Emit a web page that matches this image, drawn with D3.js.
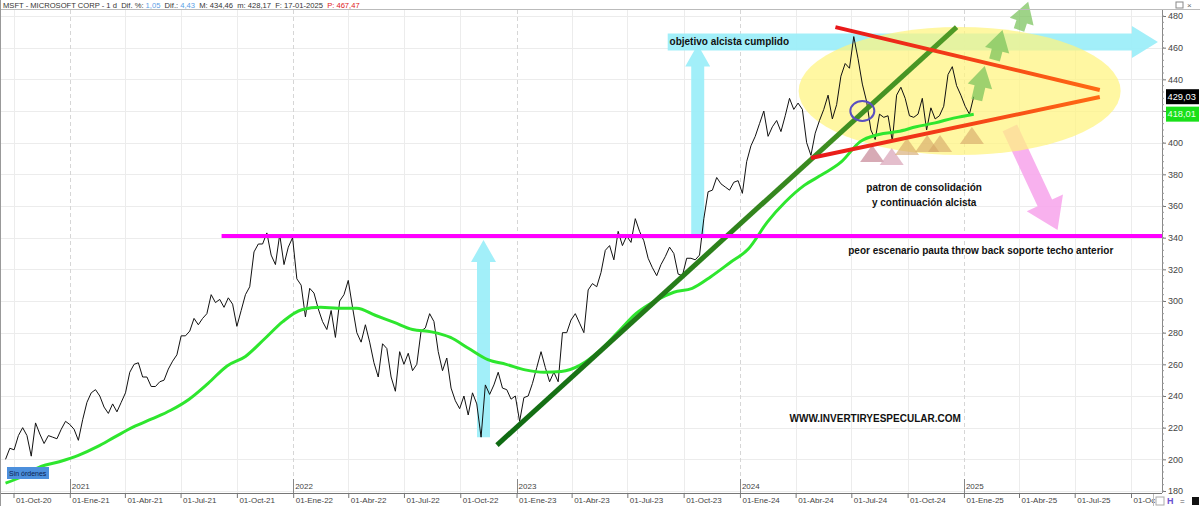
<!DOCTYPE html>
<html><head><meta charset="utf-8">
<script src="https://cdn.jsdelivr.net/npm/d3@7"></script>
<style>
body{margin:0;background:#fff;}
svg{display:block;font-family:"Liberation Sans",Arial,sans-serif;}
</style>
</head><body>
<svg id="chart" width="1200" height="506"></svg>
<script>
// ---------------- DATA ----------------
// Weekly closes (Fridays) of MSFT
const start2020 = "2020-09-18";
const close2020 = [200,207,206,215,220,215,202,223,216,210,215,214,213,219,224];
const start2021 = "2021-01-01";
const close2021 = [222,219,212,225,236,242,244,240,233,229,235,230,236,242,255,260,261,252,252,246,246,249,
  250,257,262,266,278,278,281,289,285,289,292,304,299,301,296,302,298,284,294,304,309,331,336,336,343,329,
  323,342,323,334,340];
const start2022 = "2022-01-07";
const close2022 = [314,310,290,308,305,295,287,282,294,277,300,304,313,296,280,274,285,274,261,252,273,270,
  252,243,268,260,267,256,260,281,283,292,287,268,256,264,245,237,232,240,228,242,235,214,247,241,247,255,
  245,244,238,240];
const start2023 = "2023-01-06";
const close2023 = [224,239,240,248,258,268,258,249,255,249,280,280,288,292,286,280,307,311,309,318,332,335,
  326,344,335,341,337,352,344,338,327,321,316,323,328,334,330,317,316,327,327,326,329,352,369,370,378,374,
  372,370,375,376];
const start2024 = "2024-01-05";
const close2024 = [368,388,398,404,412,420,404,410,414,407,417,428,421,425,421,400,392,406,414,421,430,415,
  424,442,450,447,467,453,437,426,408,402,418,416,417,401,430,435,428,417,416,418,428,408,422,415,417,423,
  443,448,436,430];
const start2025 = "2025-01-03";
const close2025 = [423,418,429];

// Moving average (green)
const maDates = ["2020-09-18","2020-10-15","2020-11-15","2020-12-15","2021-01-15","2021-02-15","2021-03-15",
  "2021-04-15","2021-05-15","2021-06-15","2021-07-15","2021-08-15","2021-09-15","2021-10-15","2021-11-15",
  "2021-12-15","2022-01-15","2022-02-15","2022-03-15","2022-04-15","2022-05-15","2022-06-15","2022-07-15",
  "2022-08-15","2022-09-15","2022-10-15","2022-11-15","2022-12-15","2023-01-15","2023-02-15","2023-03-15",
  "2023-04-15","2023-05-15","2023-06-15","2023-07-15","2023-08-15","2023-09-15","2023-10-15","2023-11-15",
  "2023-12-15","2024-01-15","2024-02-15","2024-03-15","2024-04-15","2024-05-15","2024-06-15","2024-07-15",
  "2024-08-15","2024-09-15","2024-10-15","2024-11-15","2024-12-15","2025-01-17"];
const maValues = [185,189,195.5,198.5,202.5,208,214,220.5,225.5,231,238,248,259,265,276,
  287,294.5,296,295.5,295.5,291,286.5,282,280.5,277,270,263,260,256.5,255,255.5,
  259.5,268,280,292,300,305.5,308,315.5,324,333,350,362.5,373,380,388,400.5,
  405.2,407,410,412.5,415.5,418];

// Axis ticks
const priceTicks = [180,200,220,240,260,280,300,320,340,360,380,400,420,440,460,480];
const hiddenPriceLabels = [420];          // covered by the last-value boxes in the original
const mesesAbrev = ["Ene","Feb","Mar","Abr","May","Jun","Jul","Ago","Sep","Oct","Nov","Dic"];
const yearLabels = ["2021","2022","2023","2024","2025"];

// Last values
const lastClose = 429.03;
const lastMA = 418.01;

// Annotations (in date / price terms)
const resistanceLevel = 341;            const resistanceFrom = "2021-09-06";
const trendUp = [["2022-11-30",209],["2024-12-20",473]];
const triTop = [["2024-06-05",473],["2025-08-11",433.3]];
const triBottom = [["2024-04-26",390.3],["2025-08-11",428.8]];
const blueArrowsV = [[["2022-11-08",214],["2022-11-08",338.5]],[["2023-10-24",341],["2023-10-24",462]]];
const blueArrowH = [["2023-09-05",463.6],["2025-11-14",463.6]];
const pinkArrow = [["2025-03-17",409.3],["2025-06-03",344.8]];
const greenArrows = [[["2025-01-22",427],["2025-02-04",448.4]],[["2025-02-20",452.2],["2025-03-05",471.2]],
                     [["2025-04-01",471.2],["2025-04-16",489]]];
const ellipseCenter = ["2024-12-25",432.6];
const circleCenter = ["2024-07-19",420];
const triangles = [["2024-08-04",398.5],["2024-09-05",396.6],["2024-09-30",403],["2024-11-02",404.8],
                   ["2024-11-23",404.8],["2025-01-14",409.9]];
const headerParts = [["MSFT - MICROSOFT CORP - 1 d  Dif. %: ","#333"],["1,05","#5aa0e6"],["  Dif.: ","#333"],
  ["4,43","#5aa0e6"],["  M: 434,46  m: 428,17  F: 17-01-2025  ","#333"],["P: 467,47","#e02020"]];

// ---------------- CHART ----------------
const svg = d3.select("#chart");
const P = d3.utcParse("%Y-%m-%d");
const W = 1200, H = 506, plotR = 1162, plotT = 10, plotB = 493;

const x = d3.scaleUtc().domain([P("2020-10-01"), P("2025-10-01")]).range([13.5, 1131]);
const y = d3.scaleLinear().domain([180, 480]).range([491, 16]);

function weekly(startStr, arr){ const s=P(startStr); return arr.map((v,i)=>({d:d3.utcDay.offset(s,7*i), v})); }
const prices = [].concat(weekly(start2020,close2020),weekly(start2021,close2021),weekly(start2022,close2022),
  weekly(start2023,close2023),weekly(start2024,close2024),weekly(start2025,close2025));
const ma = maDates.map((d,i)=>({d:P(d), v:maValues[i]}));
const pt = a => [x(P(a[0])), y(a[1])];

const defs = svg.append("defs");
defs.append("clipPath").attr("id","plot").append("rect").attr("x",0).attr("y",plotT).attr("width",plotR).attr("height",plotB-plotT);

// grid
const quarters = d3.utcMonth.every(3).range(P("2020-10-01"), P("2025-10-02"));
const g = svg.append("g").attr("clip-path","url(#plot)");
g.selectAll(".hg").data(priceTicks).join("line").attr("x1",0).attr("x2",plotR)
  .attr("y1",d=>Math.round(y(d))+0.5).attr("y2",d=>Math.round(y(d))+0.5).attr("stroke","#ececec");
g.selectAll(".vg").data(quarters).join("line")
  .attr("x1",d=>Math.round(x(d))+0.5).attr("x2",d=>Math.round(x(d))+0.5).attr("y1",plotT).attr("y2",plotB)
  .attr("stroke",d=>d.getUTCMonth()===0?"#d6d6d6":"#ececec")
  .attr("stroke-dasharray",d=>d.getUTCMonth()===0?"4,3":null);

// arrow polygon helper
function arrowPts(a,b,w,hw,hl){
  const dx=b[0]-a[0], dy=b[1]-a[1], L=Math.hypot(dx,dy), ux=dx/L, uy=dy/L, nx=-uy, ny=ux;
  const nk=[b[0]-ux*hl, b[1]-uy*hl];
  return [[a[0]+nx*w/2,a[1]+ny*w/2],[nk[0]+nx*w/2,nk[1]+ny*w/2],[nk[0]+nx*hw/2,nk[1]+ny*hw/2],b,
          [nk[0]-nx*hw/2,nk[1]-ny*hw/2],[nk[0]-nx*w/2,nk[1]-ny*w/2],[a[0]-nx*w/2,a[1]-ny*w/2]].map(p=>p.join(",")).join(" ");
}
const back = svg.append("g");
// cyan arrows
blueArrowsV.forEach(a=>{
  back.append("polygon").attr("points",arrowPts(pt(a[0]),pt(a[1]),13,25,22)).attr("fill","#9deef9").attr("opacity",0.95);
});
back.append("polygon").attr("points",arrowPts(pt(blueArrowH[0]),pt(blueArrowH[1]),17,32,26)).attr("fill","#9deef9").attr("opacity",0.95);
// pink arrow
back.append("polygon").attr("points",arrowPts(pt(pinkArrow[0]),pt(pinkArrow[1]),16,40,30)).attr("fill","#f7a8ec").attr("opacity",0.9);
// yellow ellipse
const ec = pt(ellipseCenter);
back.append("ellipse").attr("cx",ec[0]).attr("cy",ec[1]).attr("rx",161).attr("ry",64).attr("fill","#fff47e").attr("opacity",0.72);

// price and MA (above the background shapes)
const pg = svg.append("g").attr("clip-path","url(#plot)");
const line = d3.line().x(d=>x(d.d)).y(d=>y(d.v));
pg.append("path").datum(prices).attr("d",line).attr("fill","none").attr("stroke","#111").attr("stroke-width",1);
pg.append("path").datum(ma).attr("d",line.curve(d3.curveMonotoneX)).attr("fill","none").attr("stroke","#2ee62e").attr("stroke-width",3);

const ann = svg.append("g");
// triangles
triangles.forEach((t,i)=>{
  const p=pt(t);
  const col = i===0?"#c98e9c":(i===1?"#dba8bb":"#d3a466");
  ann.append("polygon").attr("points",[[p[0],p[1]],[p[0]+12,p[1]+17],[p[0]-12,p[1]+17]].map(q=>q.join(",")).join(" "))
    .attr("fill",col).attr("opacity",i<2?0.75:0.6);
});

// gradient lines
function gradLine(id, a, b, c1, c2, w){
  const A=pt(a), B=pt(b);
  const gr=defs.append("linearGradient").attr("id",id).attr("gradientUnits","userSpaceOnUse")
    .attr("x1",A[0]).attr("y1",A[1]).attr("x2",B[0]).attr("y2",B[1]);
  gr.append("stop").attr("offset","0%").attr("stop-color",c1);
  gr.append("stop").attr("offset","100%").attr("stop-color",c2);
  ann.append("line").attr("x1",A[0]).attr("y1",A[1]).attr("x2",B[0]).attr("y2",B[1])
    .attr("stroke",`url(#${id})`).attr("stroke-width",w).attr("stroke-linecap","butt");
}
gradLine("gUp", trendUp[0], trendUp[1], "#0e6a12", "#4f9a26", 5);
gradLine("gTop", triTop[0], triTop[1], "#e8161a", "#ff6a14", 4);
gradLine("gBot", triBottom[0], triBottom[1], "#e8161a", "#ff6a14", 4);

// magenta resistance
ann.append("line").attr("x1",x(P(resistanceFrom))).attr("x2",plotR).attr("y1",y(resistanceLevel)).attr("y2",y(resistanceLevel))
  .attr("stroke","#ff00ff").attr("stroke-width",4);

// circle
const cc = pt(circleCenter);
ann.append("ellipse").attr("cx",cc[0]).attr("cy",cc[1]).attr("rx",12).attr("ry",10).attr("fill","none")
  .attr("stroke","#5a4fc0").attr("stroke-width",2);

// green arrows
greenArrows.forEach(a=>{
  ann.append("polygon").attr("points",arrowPts(pt(a[0]),pt(a[1]),11,25,21)).attr("fill","#78c25a").attr("opacity",0.72);
});

// annotation texts
const T = (s, xp, yp, anchor) => ann.append("text").attr("x",xp).attr("y",yp).attr("text-anchor",anchor||"start")
  .attr("font-size",10).attr("font-weight","bold").attr("fill","#111").text(s);
T("objetivo alcista cumplido", x(P("2023-09-08")), y(463.6)+3.5);
T("patron de consolidación", x(P("2024-10-28")), y(372)+3.5, "middle");
T("y continuación alcista", x(P("2024-10-28")), y(362.5)+3.5, "middle");
T("peor escenario pauta throw back soporte techo anterior", x(P("2024-06-26")), y(332.2)+3.5);
T("WWW.INVERTIRYESPECULAR.COM", x(P("2024-03-22")), y(225.5)+3.5);

// Sin órdenes box
svg.append("rect").attr("x",7).attr("y",467).attr("width",42).attr("height",12).attr("fill","#4c8fdc");
svg.append("text").attr("x",9).attr("y",476).attr("font-size",7).attr("fill","#0b2250").text("Sin órdenes");

// right axis
const yAx = svg.append("g").attr("transform",`translate(${plotR},0)`)
  .call(d3.axisRight(y).tickValues(priceTicks).tickSize(4).tickPadding(2)
    .tickFormat(d=>hiddenPriceLabels.includes(d)?"":d));
yAx.select(".domain").remove();
yAx.selectAll("line").attr("stroke","#777");
yAx.selectAll("text").attr("font-size",9).attr("fill","#444").attr("font-family","Liberation Sans, Arial, sans-serif");
svg.append("line").attr("x1",plotR+0.5).attr("x2",plotR+0.5).attr("y1",plotT).attr("y2",plotB).attr("stroke","#888");
svg.selectAll(".mt").data(d3.range(180,481,4)).join("line").attr("x1",plotR).attr("x2",plotR+2)
  .attr("y1",d=>y(d)).attr("y2",d=>y(d)).attr("stroke","#999");

// last-value boxes
const fmtC = v => d3.format(".2f")(v).replace(".",",");
[[lastClose,"#000","#fff"],[lastMA,"#19e019","#e8ffe8"]].forEach(b=>{
  const yy=y(b[0]);
  svg.append("rect").attr("x",1166).attr("y",yy-7.5).attr("width",33).attr("height",15).attr("fill",b[1]);
  svg.append("text").attr("x",1167.5).attr("y",yy+3.3).attr("font-size",9.3).attr("fill",b[2]).text(fmtC(b[0]));
});

// bottom axis
svg.append("line").attr("x1",0).attr("x2",plotR).attr("y1",plotB+0.5).attr("y2",plotB+0.5).attr("stroke","#777");
const lastQ = quarters[quarters.length-1];
const fmtQ = d => { const s = "01-" + mesesAbrev[d.getUTCMonth()] + "-" + String(d.getUTCFullYear()).slice(2);
  return +d===+lastQ ? s.slice(0,5) : s; };   // last label is cut by the toolbar in the original
const xAx = svg.append("g").attr("transform",`translate(0,${plotB})`)
  .call(d3.axisBottom(x).tickValues(quarters).tickSize(5).tickFormat(fmtQ));
xAx.select(".domain").remove();
xAx.selectAll("line").attr("stroke","#777");
xAx.selectAll("text").attr("text-anchor","start").attr("x",2).attr("dy",0).attr("y",10)
  .attr("font-size",8).attr("fill","#444").attr("font-family","Liberation Sans, Arial, sans-serif");
const years = yearLabels.map(s=>P(s+"-01-01"));
svg.selectAll(".yt").data(years).join("line").attr("x1",d=>Math.round(x(d))+0.5).attr("x2",d=>Math.round(x(d))+0.5)
  .attr("y1",479).attr("y2",plotB).attr("stroke","#888");
svg.selectAll(".yl").data(years).join("text").attr("x",d=>x(d)+2).attr("y",489).attr("font-size",8).attr("fill","#444")
  .text((d,i)=>yearLabels[i]);
// bottom-right toolbar
svg.append("line").attr("x1",1153.5).attr("x2",1153.5).attr("y1",plotB+1).attr("y2",H).attr("stroke","#bbb");
svg.append("rect").attr("x",1156).attr("y",497).attr("width",8).attr("height",8).attr("fill","none").attr("stroke","#aaa");
svg.append("text").attr("x",1167).attr("y",504).attr("font-size",9).attr("font-weight","bold").attr("fill","#6a4fd0").text("H");
svg.append("text").attr("x",1180).attr("y",504).attr("font-size",8).attr("fill","#555").text("=");
svg.append("rect").attr("x",1192).attr("y",497).attr("width",7).attr("height",8).attr("fill","#111");

// frame + header
svg.append("line").attr("x1",0).attr("x2",W).attr("y1",plotT-0.5).attr("y2",plotT-0.5).attr("stroke","#bbb");
svg.append("line").attr("x1",0.5).attr("x2",0.5).attr("y1",0).attr("y2",H).attr("stroke","#999");
const hdr = svg.append("text").attr("x",3).attr("y",8).attr("font-size",7.6).style("white-space","pre");
headerParts.forEach(p=>hdr.append("tspan").attr("fill",p[1]).text(p[0]));
svg.append("rect").attr("x",1176).attr("y",2).attr("width",7).attr("height",6).attr("fill","none").attr("stroke","#888");
svg.append("text").attr("x",1187).attr("y",8).attr("font-size",8).attr("fill","#666").text("×");
</script>
</body></html>
